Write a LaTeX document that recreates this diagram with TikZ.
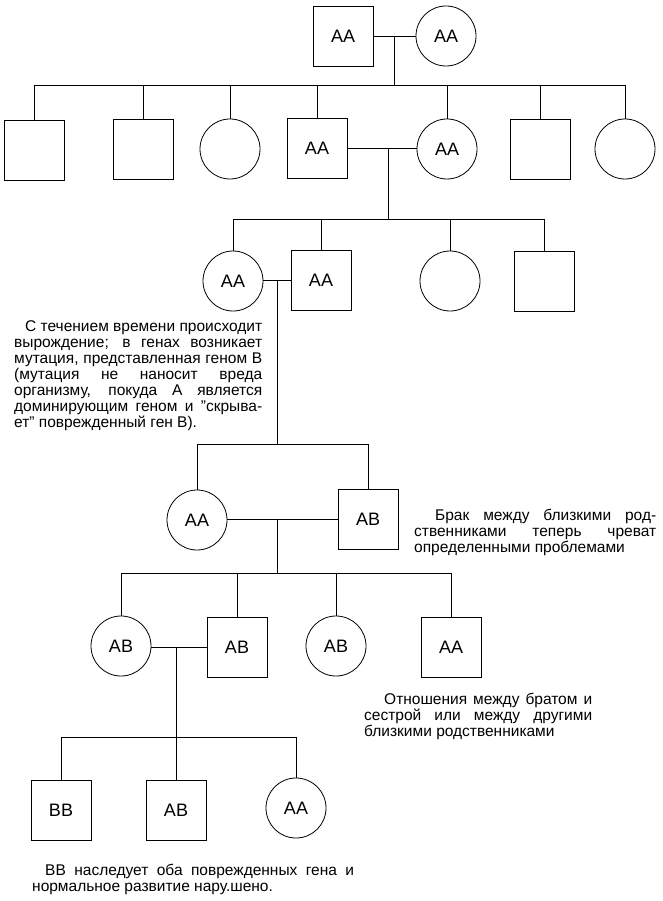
\documentclass[tikz,border=0pt]{standalone}
\usepackage{fontspec}
\usepackage{graphicx}
\setmainfont{Liberation Sans}
\newsavebox\jbox
\newcommand\jl[2]{\sbox\jbox{#2}\ifdim\wd\jbox>#1\relax\resizebox{#1}{\height}{\usebox\jbox}\else\makebox[#1][s]{#2}\fi}
\begin{document}
\begin{tikzpicture}[x=1pt,y=-1pt]
\tikzset{
  male/.style={draw, rectangle, minimum width=60pt, minimum height=60pt, inner sep=0pt, line width=0.8pt, font=\fontsize{18}{20}\selectfont},
  female/.style={draw, circle, minimum size=60pt, inner sep=0pt, line width=0.8pt, font=\fontsize{18}{20}\selectfont},
  link/.style={line width=0.8pt},
  note/.style={inner sep=0pt, anchor=base west, font=\fontsize{15.5}{16}\selectfont}
}
\fill[white] (0,0) rectangle (662,901);
\useasboundingbox (0,0) rectangle (662,901);

% generation 1
\node[male]   (g1m) at (343,36) {AA};
\node[female] (g1f) at (446,36) {AA};
\coordinate (m1) at (394,36);
\draw[link] (g1m.east) -- (g1f.west);

% generation 2
\node[male]   (c21) at (34,150) {};
\node[male]   (c22) at (143,149) {};
\node[female] (c23) at (230,149) {};
\node[male]   (c24) at (317,148) {AA};
\node[female] (c25) at (447,149) {AA};
\node[male]   (c26) at (540,149) {};
\node[female] (c27) at (625,149) {};
\coordinate (s2a) at (34,85);
\coordinate (s2b) at (625,85);
\draw[link] (m1) -- (m1 |- s2a);
\draw[link] (s2a) -- (s2b);
\foreach \c in {c21,c22,c23,c24,c25,c26,c27}{
  \draw[link] (\c.north |- s2a) -- (\c.north);
}
\draw[link] (c24.east) -- (c25.west |- c24.east);
\coordinate (m2) at (388,148);

% generation 3
\node[female] (c31) at (233,281) {AA};
\node[male]   (c32) at (321,280) {AA};
\node[female] (c33) at (450,281) {};
\node[male]   (c34) at (544,281) {};
\coordinate (s3a) at (233,219);
\coordinate (s3b) at (544,219);
\draw[link] (m2) -- (m2 |- s3a);
\draw[link] (s3a) -- (s3b);
\foreach \c in {c31,c32,c33,c34}{
  \draw[link] (\c.north |- s3a) -- (\c.north);
}
\draw[link] (c31.east |- c32.west) -- (c32.west);
\coordinate (m3) at (277,280);

% generation 4
\node[female] (c41) at (197,520) {AA};
\node[male]   (c42) at (368,519) {AB};
\coordinate (s4a) at (197,444);
\coordinate (s4b) at (368,444);
\draw[link] (m3) -- (m3 |- s4a);
\draw[link] (s4a) -- (s4b);
\foreach \c in {c41,c42}{
  \draw[link] (\c.north |- s4a) -- (\c.north);
}
\draw[link] (c41.east |- c42.west) -- (c42.west);
\coordinate (m4) at (277,519);

% generation 5
\node[female] (c51) at (121,646) {AB};
\node[male]   (c52) at (237,647) {AB};
\node[female] (c53) at (336,646) {AB};
\node[male]   (c54) at (451,647) {AA};
\coordinate (s5a) at (121,573);
\coordinate (s5b) at (451,573);
\draw[link] (m4) -- (m4 |- s5a);
\draw[link] (s5a) -- (s5b);
\foreach \c in {c51,c52,c53,c54}{
  \draw[link] (\c.north |- s5a) -- (\c.north);
}
\draw[link] (c51.east |- c52.west) -- (c52.west);
\coordinate (m5) at (176,647);

% generation 6
\node[male]   (c61) at (61,810) {BB};
\node[male]   (c62) at (176,810) {AB};
\node[female] (c63) at (296,808) {AA};
\coordinate (s6a) at (61,737);
\coordinate (s6b) at (296,737);
\draw[link] (m5) -- (m5 |- s6a);
\draw[link] (s6a) -- (s6b);
\foreach \c in {c61,c62,c63}{
  \draw[link] (\c.north |- s6a) -- (\c.north);
}

% notes
\node[note] (n1) at (14,331) {\parbox[t]{248pt}{%
\hspace*{11pt}\jl{237pt}{С течением времени происходит}\\
\jl{248pt}{вырождение; в генах возникает}\\
\jl{248pt}{мутация, представленная геном В}\\
\jl{248pt}{(мутация не наносит вреда}\\
\jl{248pt}{организму, покуда А является}\\
\jl{248pt}{доминирующим геном и "скрыва-}\\
ет" поврежденный ген В).}};

\node[note] (n2) at (414,520) {\parbox[t]{242pt}{%
\hspace*{21pt}\jl{221pt}{Брак между близкими род-}\\
\jl{242pt}{ственниками теперь чреват}\\
определенными проблемами}};

\node[note] (n3) at (364,704) {\parbox[t]{228pt}{%
\hspace*{20pt}\jl{208pt}{Отношения между братом и}\\
\jl{228pt}{сестрой или между другими}\\
близкими родственниками}};

\node[note] (n4) at (32,875) {\parbox[t]{322pt}{%
\hspace*{13pt}\jl{309pt}{ВВ наследует оба поврежденных гена и}\\
нормальное развитие нару.шено.}};
\end{tikzpicture}
\end{document}
